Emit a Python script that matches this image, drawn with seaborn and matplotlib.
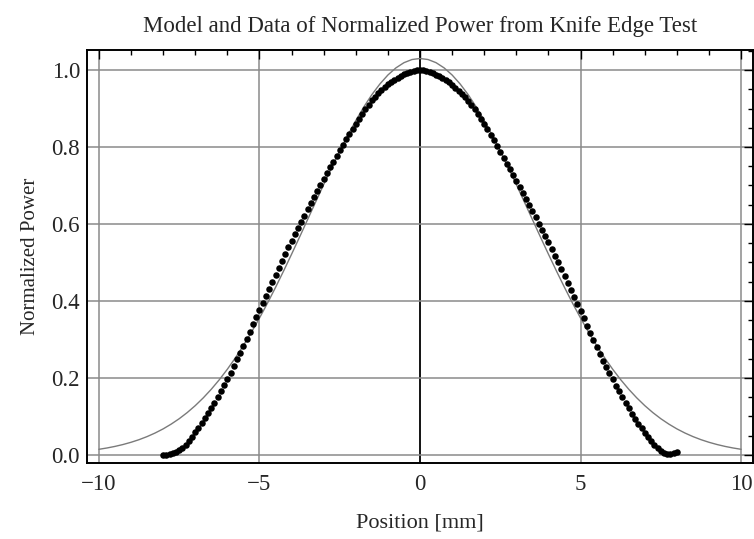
import numpy as np
import pandas as pd
import seaborn as sns
import matplotlib
matplotlib.use("Agg")
import matplotlib.pyplot as plt
from matplotlib.ticker import MultipleLocator

# ---------------- data ----------------
# measured positions (mm), 0.1 mm steps from -8 to 8
position_mm = np.round(np.arange(-80, 81) / 10.0, 1)
power_left = [
    0.000, 0.001, 0.002, 0.004, 0.007, 0.012, 0.018, 0.026, 0.036, 0.047,
    0.059, 0.071, 0.083, 0.096, 0.109, 0.122, 0.136, 0.150, 0.165, 0.181,
    0.197, 0.214, 0.231, 0.248, 0.266, 0.284, 0.302, 0.320, 0.339, 0.358,
    0.377, 0.396, 0.414, 0.432, 0.450, 0.468, 0.486, 0.504, 0.522, 0.539,
    0.556, 0.573, 0.590, 0.606, 0.622, 0.638, 0.654, 0.670, 0.686, 0.702,
    0.717, 0.732, 0.747, 0.762, 0.777, 0.792, 0.806, 0.820, 0.834, 0.848,
    0.861, 0.874, 0.887, 0.899, 0.910, 0.921, 0.931, 0.940, 0.948, 0.956,
    0.963, 0.969, 0.975, 0.980, 0.985, 0.989, 0.992, 0.995, 0.997, 0.999,
]
power_right = [
    1.000, 0.999, 0.998, 0.995, 0.992, 0.988, 0.984, 0.979, 0.974, 0.968,
    0.961, 0.954, 0.946, 0.938, 0.929, 0.919, 0.909, 0.898, 0.886, 0.873,
    0.860, 0.846, 0.832, 0.817, 0.802, 0.787, 0.772, 0.757, 0.742, 0.727,
    0.712, 0.697, 0.681, 0.665, 0.649, 0.633, 0.617, 0.601, 0.585, 0.569,
    0.552, 0.535, 0.518, 0.500, 0.482, 0.464, 0.446, 0.428, 0.410, 0.392,
    0.374, 0.355, 0.336, 0.317, 0.298, 0.280, 0.262, 0.245, 0.228, 0.212,
    0.196, 0.180, 0.165, 0.150, 0.135, 0.121, 0.107, 0.094, 0.081, 0.069,
    0.057, 0.046, 0.036, 0.026, 0.018, 0.011, 0.006, 0.003, 0.002, 0.004,
    0.008,
]
normalized_power = power_left + power_right

# model curve sampled every 0.25 mm from -10 to 10
model_position_mm = np.arange(-40, 41) * 0.25
model_half = [
    1.0300, 1.0273, 1.0191, 1.0056, 0.9871, 0.9637, 0.9360, 0.9041, 0.8688,
    0.8304, 0.7895, 0.7466, 0.7023, 0.6571, 0.6116, 0.5662, 0.5214, 0.4776,
    0.4351, 0.3943, 0.3555, 0.3188, 0.2843, 0.2522, 0.2226, 0.1954, 0.1706,
    0.1482, 0.1280, 0.1100, 0.0940, 0.0800, 0.0676, 0.0569, 0.0476, 0.0396,
    0.0328, 0.0270, 0.0221, 0.0180, 0.0146,
]
model_power = model_half[:0:-1] + model_half

title = "Model and Data of Normalized Power from Knife Edge Test"
xlabel = "Position [mm]"
ylabel = "Normalized Power"
x_major = [-10, -5, 0, 5, 10]
y_major = [0.0, 0.2, 0.4, 0.6, 0.8, 1.0]

data_df = pd.DataFrame({"x": position_mm, "y": normalized_power})
model_df = pd.DataFrame({"x": model_position_mm, "y": model_power})

# ---------------- plot ----------------
sns.set_theme(style="white")
plt.rcParams["font.family"] = ["Liberation Serif", "DejaVu Serif"]

fig = plt.figure(figsize=(7.54, 5.39), dpi=100)
ax = fig.add_axes([0.1154, 0.141, 0.8833, 0.7662])

# grid
for xv in x_major:
    ax.axvline(xv, color="black" if xv == 0 else "#8a8a8a",
               lw=1.3 if xv == 0 else 1.1, zorder=0)
for yv in y_major:
    ax.axhline(yv, color="#8a8a8a", lw=1.1, zorder=0)

sns.lineplot(data=model_df, x="x", y="y", ax=ax, color="#7a7a7a", lw=1.0,
             zorder=2)
sns.scatterplot(data=data_df, x="x", y="y", ax=ax, color="black", s=22,
                linewidth=0, zorder=3)

ax.set_xlim(-10.37, 10.37)
ax.set_ylim(-0.021, 1.052)
ax.set_xticks(x_major)
ax.set_yticks(y_major)
ax.set_xticklabels(["\u221210", "\u22125", "0", "5", "10"])
ax.set_yticklabels([f"{v:.1f}" for v in y_major])
ax.xaxis.set_minor_locator(MultipleLocator(1))
ax.yaxis.set_minor_locator(MultipleLocator(0.05))
ax.tick_params(which="both", direction="in", top=True, right=True,
               color="black", width=1.0)
ax.tick_params(which="major", length=6.5, labelsize=16.5)
ax.tick_params(which="minor", length=3.6)
ax.tick_params(axis="x", which="major", pad=8)
ax.tick_params(axis="y", which="major", pad=5)
for sp in ax.spines.values():
    sp.set_color("black")
    sp.set_linewidth(1.4)

ax.set_xlabel(xlabel, fontsize=16, labelpad=13)
ax.set_ylabel(ylabel, fontsize=15, labelpad=8)
ax.set_title(title, fontsize=16.5, pad=13)

fig.savefig("out.png", dpi=100)
